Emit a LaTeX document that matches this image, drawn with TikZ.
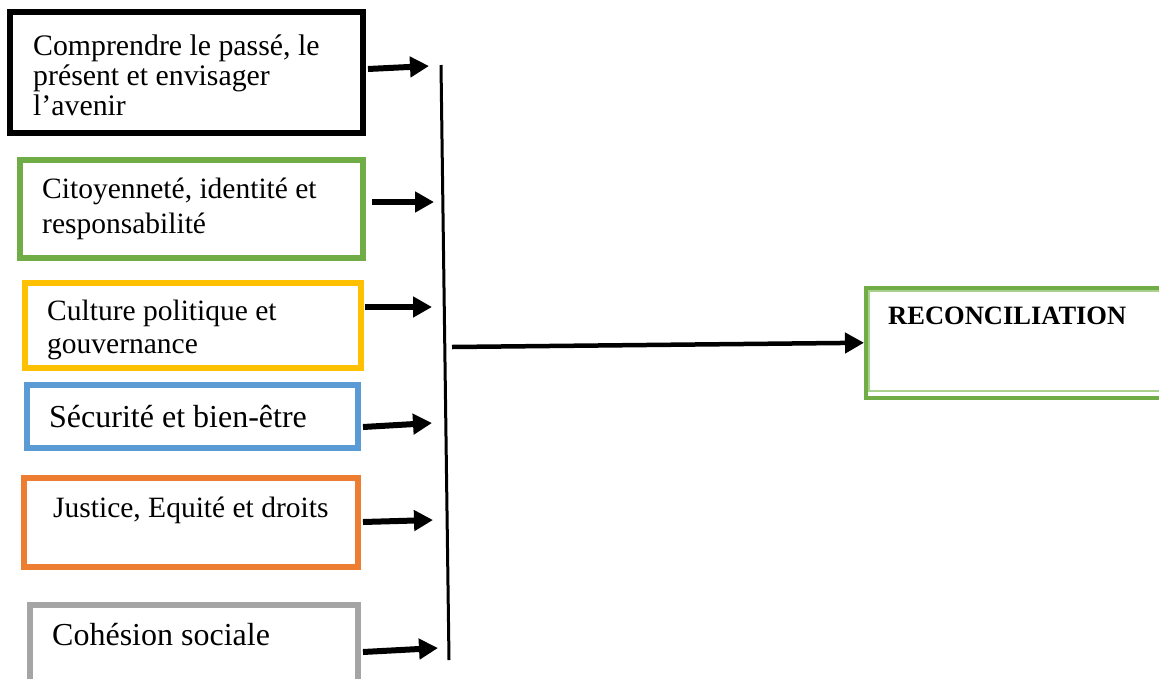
\documentclass[tikz,border=0pt]{standalone}
\usepackage{fontspec}
\setmainfont{Liberation Serif}
\usetikzlibrary{arrows.meta}
\definecolor{cgreen}{HTML}{70AD47}
\definecolor{clightgreen}{HTML}{A9D18E}
\definecolor{cyellow}{HTML}{FFC000}
\definecolor{cblue}{HTML}{5B9BD5}
\definecolor{corange}{HTML}{ED7D31}
\definecolor{cgray}{HTML}{A5A5A5}
\begin{document}
\begin{tikzpicture}[x=1pt,y=-1pt,
  box/.style={draw, line width=5.5pt, inner sep=0pt, outer sep=0pt},
  lbl/.style={anchor=base west, inner sep=0pt, align=left},
  arr/.style={line width=6pt, -{Triangle[length=19pt,width=20pt]}},
  bar/.style={line width=3pt}]
\useasboundingbox (0,0) rectangle (1159,678);
\clip (0,0) rectangle (1159,678);
% boxes
\draw[box, draw=black] (10,12) rectangle (363,133) node[pos=.5] (b1) {};
\draw[box, draw=cgreen] (20,160) rectangle (363,258) node[pos=.5] (b2) {};
\draw[box, draw=cyellow] (25,283) rectangle (361,368) node[pos=.5] (b3) {};
\draw[box, draw=cblue] (27,385) rectangle (358,448) node[pos=.5] (b4) {};
\draw[box, draw=corange] (24,478) rectangle (358,567) node[pos=.5] (b5) {};
\draw[box, draw=cgray] (30,605) rectangle (358,700) node[pos=.5] (b6) {};
\node[draw=cgreen, line width=3.5pt, minimum width=310pt, minimum height=110pt, anchor=north west, inner sep=0pt] (rec) at (864,286) {};
\draw[clightgreen, line width=1.5pt] (869,291) rectangle (1175,391);
% texts
\node[lbl, font=\fontsize{29.8}{30}\selectfont] (t1) at (33,115) {Comprendre le passé, le\\présent et envisager\\l’avenir};
\node[lbl, font=\fontsize{29.5}{35}\selectfont] (t2) at (42,233) {Citoyenneté, identité et\\responsabilité};
\node[lbl, font=\fontsize{29.5}{33}\selectfont] (t3) at (47,353) {Culture politique et\\gouvernance};
\node[lbl, font=\fontsize{32}{36}\selectfont] (t4) at (49,427) {Sécurité et bien-être};
\node[lbl, font=\fontsize{29.5}{33}\selectfont] (t5) at (53,517) {Justice, Equité et droits};
\node[lbl, font=\fontsize{32}{36}\selectfont] (t6) at (52,645) {Cohésion sociale};
\node[lbl, font=\fontsize{26.5}{30}\selectfont\bfseries] (t7) at (888,324) {RECONCILIATION};
% collector bar
\coordinate (bartop) at (441,65);
\coordinate (barbot) at (449,660);
\draw[bar] (bartop) -- (barbot);
% arrow endpoints
\coordinate (s1) at (368,69);  \coordinate (e1) at (429,66);
\coordinate (s2) at (372,202); \coordinate (e2) at (434,202);
\coordinate (s3) at (365,307); \coordinate (e3) at (432,307);
\coordinate (s4) at (363,427); \coordinate (e4) at (432,423);
\coordinate (s5) at (363,522); \coordinate (e5) at (433,520);
\coordinate (s6) at (363,652); \coordinate (e6) at (438,648);
\coordinate (sm) at (452,347);
\draw[arr] (s1) -- (e1);
\draw[arr] (s2) -- (e2);
\draw[arr] (s3) -- (e3);
\draw[arr] (s4) -- (e4);
\draw[arr] (s5) -- (e5);
\draw[arr] (s6) -- (e6);
\draw[arr, line width=4.5pt] (sm) -- (rec.west);
\end{tikzpicture}
\end{document}
